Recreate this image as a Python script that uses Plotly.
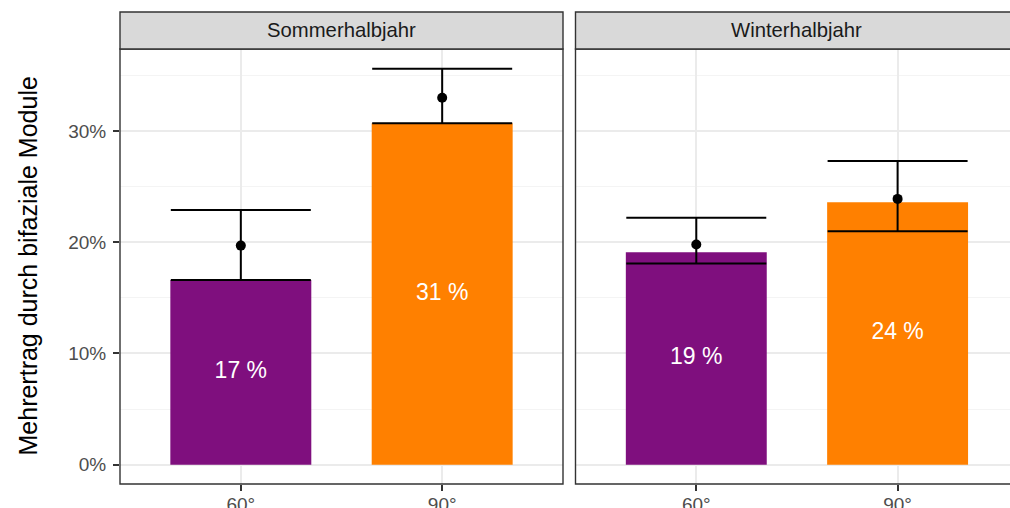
import plotly.graph_objects as go

# Data: additional yield of bifacial modules by tilt angle and half-year
panels = ["Sommerhalbjahr", "Winterhalbjahr"]
angles = ["60°", "90°"]
bar_values = {"Sommerhalbjahr": [16.6, 30.7], "Winterhalbjahr": [19.1, 23.6]}
point_values = {"Sommerhalbjahr": [19.7, 33.0], "Winterhalbjahr": [19.8, 23.9]}
err_low = {"Sommerhalbjahr": [16.6, 30.7], "Winterhalbjahr": [18.1, 21.0]}
err_high = {"Sommerhalbjahr": [22.9, 35.6], "Winterhalbjahr": [22.2, 27.3]}
y_ticks = [0, 10, 20, 30]
y_tick_labels = ["0%", "10%", "20%", "30%"]
y_minor = [5, 15, 25, 35]
bar_colors = ["#7F0F7E", "#FF8000"]

FONT = "Liberation Sans, Arial, sans-serif"
W, H = 1010, 508
ML, MR, MT, MB = 120, 0, 49, 24
plot_w = W - ML - MR
plot_h = H - MT - MB

fig = go.Figure()

for i, panel in enumerate(panels):
    xa = "x" if i == 0 else "x2"
    ya = "y" if i == 0 else "y2"
    bars = bar_values[panel]
    pts = point_values[panel]
    lo = err_low[panel]
    hi = err_high[panel]
    fig.add_trace(go.Bar(
        x=angles, y=bars, width=0.7,
        marker=dict(color=bar_colors, line=dict(width=0)),
        xaxis=xa, yaxis=ya, showlegend=False, hoverinfo="skip",
    ))
    fig.add_trace(go.Scatter(
        x=angles, y=pts, mode="markers",
        marker=dict(color="black", size=10),
        error_y=dict(
            type="data", symmetric=False,
            array=[h - p for h, p in zip(hi, pts)],
            arrayminus=[p - l for p, l in zip(pts, lo)],
            color="black", thickness=2, width=70,
        ),
        xaxis=xa, yaxis=ya, showlegend=False, hoverinfo="skip",
    ))
    fig.add_trace(go.Scatter(
        x=angles, y=[b / 2 for b in bars], mode="text",
        text=[f"{round(b)} %" for b in bars],
        textposition="middle center",
        textfont=dict(color="white", size=23, family=FONT),
        xaxis=xa, yaxis=ya, showlegend=False, hoverinfo="skip",
    ))

yrange = [-1.74, 37.38]
d1_end = (563 - ML) / plot_w
d2_start = (575.5 - ML) / plot_w
x2_end = (W - 696) / 201.5

common_x = dict(
    type="category", categoryorder="array", categoryarray=angles,
    showgrid=True, gridcolor="#EBEBEB", gridwidth=2,
    ticks="outside", ticklen=6, tickwidth=1.5, tickcolor="#333333",
    tickfont=dict(size=19, color="#4D4D4D", family=FONT),
    ticklabelstandoff=-3,
    showline=False, zeroline=False, fixedrange=True, automargin=False,
)
common_y = dict(
    range=yrange, showgrid=True, gridcolor="#EBEBEB", gridwidth=2,
    tickvals=y_ticks, ticktext=y_tick_labels,
    minor=dict(tickvals=y_minor, showgrid=True, gridcolor="#F4F4F4", gridwidth=1),
    zeroline=False, showline=False, fixedrange=True, automargin=False,
)

fig.update_layout(
    width=W, height=H,
    margin=dict(l=ML, r=MR, t=MT, b=MB, pad=0),
    paper_bgcolor="white", plot_bgcolor="white",
    barmode="overlay",
    xaxis=dict(domain=[0, d1_end], range=[-0.6, 1.6], anchor="y", **common_x),
    xaxis2=dict(domain=[d2_start, 1], range=[-0.6, x2_end], anchor="y2", **common_x),
    yaxis=dict(anchor="x", ticks="outside", ticklen=6, tickwidth=1.5, tickcolor="#333333",
               tickfont=dict(size=19, color="#4D4D4D", family=FONT),
               ticklabelstandoff=3, **common_y),
    yaxis2=dict(anchor="x2", matches="y", showticklabels=False, ticks="", **common_y),
)

strip_top = 1 + (MT - 12) / plot_h
border = dict(color="#333333", width=1.4)
shapes = [
    # panel borders
    dict(type="rect", xref="x domain", yref="y domain", x0=0, x1=1, y0=0, y1=1,
         line=border, fillcolor="rgba(0,0,0,0)", layer="above"),
    dict(type="rect", xref="x2 domain", yref="y domain", x0=0, x1=1.05, y0=0, y1=1,
         line=border, fillcolor="rgba(0,0,0,0)", layer="above"),
    # facet strips
    dict(type="rect", xref="x domain", yref="paper", x0=0, x1=1, y0=1, y1=strip_top,
         line=border, fillcolor="#D9D9D9", layer="above"),
    dict(type="rect", xref="x2 domain", yref="paper", x0=0, x1=1.05, y0=1, y1=strip_top,
         line=border, fillcolor="#D9D9D9", layer="above"),
]
fig.update_layout(shapes=shapes)

strip_mid = (1 + strip_top) / 2
annotations = [
    dict(text="Sommerhalbjahr", xref="x domain", yref="paper", x=0.5, y=strip_mid,
         showarrow=False, xanchor="center", yanchor="middle",
         font=dict(size=20.3, color="#1A1A1A", family=FONT)),
    dict(text="Winterhalbjahr", xref="x2", yref="paper", x=0.5, y=strip_mid,
         showarrow=False, xanchor="center", yanchor="middle",
         font=dict(size=20.3, color="#1A1A1A", family=FONT)),
    dict(text="Mehrertrag durch bifaziale Module", xref="paper", yref="paper",
         x=(27 - ML) / plot_w, y=0.5, textangle=-90, showarrow=False,
         xanchor="center", yanchor="middle",
         font=dict(size=25, color="black", family=FONT)),
]
fig.update_layout(annotations=annotations)

fig.write_html("out.html")
